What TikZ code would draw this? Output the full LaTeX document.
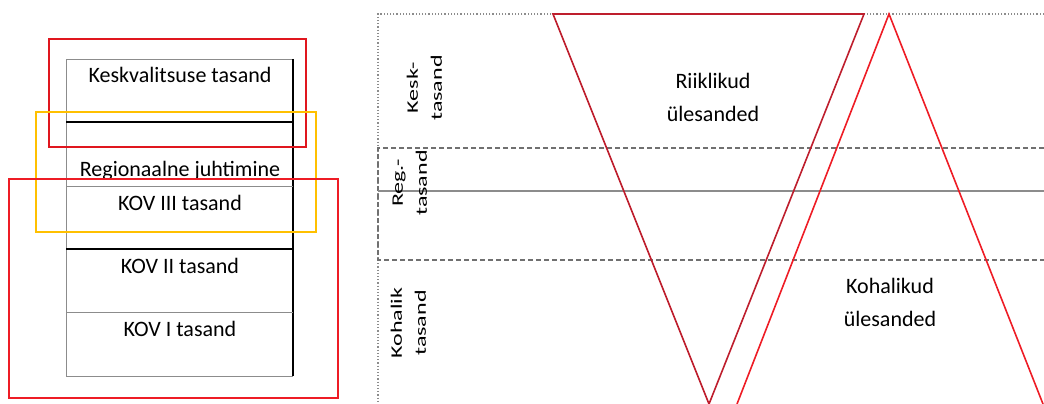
\documentclass[tikz,border=0pt]{standalone}
\usepackage{fontspec}
\usepackage{graphicx}
\setmainfont{Carlito}
\definecolor{boxred}{HTML}{E0161E}
\definecolor{darkred}{HTML}{BE1E2D}
\definecolor{brightred}{HTML}{EE1C25}
\definecolor{amber}{HTML}{FFC000}
\definecolor{linegray}{HTML}{8C8C8C}
\newcommand{\sidelabel}[2]{\scalebox{1.5}[1]{\fontsize{16}{24}\selectfont\begin{tabular}{@{}c@{}}#1\\#2\end{tabular}}}
\tikzset{
  lvltext/.style={font=\fontsize{22}{26}\selectfont, inner sep=0pt, anchor=center},
  tasktext/.style={font=\fontsize{22}{33}\selectfont, align=center, inner sep=0pt},
  sidetext/.style={rotate=90, inner sep=0pt},
  thinrule/.style={draw=linegray, line width=0.8pt},
  thickrule/.style={draw=black, line width=1.4pt},
  framebox/.style={line width=1.8pt},
  dotrule/.style={draw=linegray, line width=1.2pt, dotted},
  dashrule/.style={draw=linegray!80!black, line width=1.3pt, dash pattern=on 5pt off 3pt},
  tri/.style={line width=1.6pt, line join=miter}
}
\begin{document}
\begin{tikzpicture}[x=1pt,y=-1pt]
\useasboundingbox (0,0) rectangle (1044,404);
% ---------- left stack ----------
\coordinate (bTL) at (66,59);
\coordinate (bTR) at (293,59);
\coordinate (bBL) at (66,376);
\coordinate (bBR) at (293,376);
\draw[thinrule] (bTR) -- (bTL) -- (bBL) -- (bBR);
\draw[draw=black, line width=1.6pt] (bTR) -- (bBR);
\draw[thickrule] (66,122) -- (293,122);
\draw[thinrule] (66,186) -- (293,186);
\draw[draw=black, line width=1.2pt] (66,249) -- (293,249);
\draw[thinrule] (66,312) -- (293,312);
\node[lvltext] (kesk) at (180,75) {Keskvalitsuse tasand};
\node[lvltext] (reg) at (180,171) {Regionaalne juhtimine};
\node[lvltext] (kov3) at (180,203) {KOV III tasand};
\node[lvltext] (kov2) at (180,266) {KOV II tasand};
\node[lvltext] (kov1) at (180,329) {KOV I tasand};
\draw[framebox, draw=boxred] (49,39) rectangle (306,147);
\draw[framebox, draw=amber] (36,112) rectangle (316,232);
\draw[framebox, draw=brightred] (9,179) rectangle (338,398);
% ---------- right chart ----------
\coordinate (fTL) at (378,14);
\coordinate (fTR) at (1044,14);
\coordinate (fBL) at (378,404);
\draw[dotrule] (fTR) -- (fTL) -- (fBL);
\draw[dashrule] (1044,148) -- (378,148) -- (378,260) -- (1044,260);
\draw[draw=linegray, line width=1.3pt] (378,191) -- (1044,191);
\node[sidetext] (lk) at (425,88) {\sidelabel{Kesk-}{tasand}};
\node[sidetext] (lr) at (410,183) {\sidelabel{Reg.-}{tasand}};
\node[sidetext] (lko) at (409,323) {\sidelabel{Kohalik}{tasand}};
% triangles
\coordinate (iA) at (553,14);
\coordinate (iB) at (864,14);
\coordinate (iC) at (709,404);
\draw[tri, draw=darkred] (iA) -- (iB) -- (iC) -- cycle;
\coordinate (uA) at (889,14);
\coordinate (uB) at (737,404);
\coordinate (uC) at (1043,404);
\draw[tri, draw=brightred] (uB) -- (uA) -- (uC);
\node[tasktext] (riik) at (713,97) {Riiklikud\\ülesanded};
\node[tasktext] (koh) at (890,302) {Kohalikud\\ülesanded};
\end{tikzpicture}
\end{document}
